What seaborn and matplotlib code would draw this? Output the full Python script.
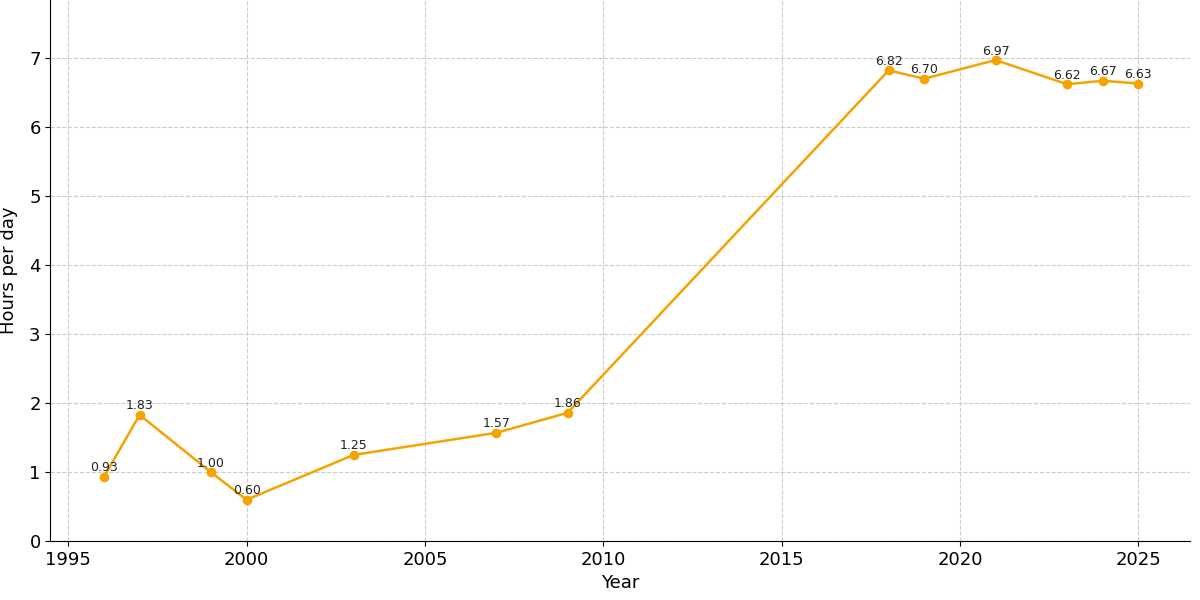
import matplotlib
matplotlib.use("Agg")
import matplotlib.pyplot as plt
import seaborn as sns
import pandas as pd

years = [1996, 1997, 1999, 2000, 2003, 2007, 2009, 2018, 2019, 2021, 2023, 2024, 2025]
hours = [0.93, 1.83, 1.00, 0.60, 1.25, 1.57, 1.86, 6.82, 6.70, 6.97, 6.62, 6.67, 6.63]
df = pd.DataFrame({"Year": years, "Hours per day": hours})

fig, ax = plt.subplots(figsize=(12, 6), dpi=100)
fig.subplots_adjust(left=0.042, right=0.992, top=1.0, bottom=0.098)
sns.lineplot(data=df, x="Year", y="Hours per day", color="#F5A300", marker="o",
             markersize=7, markeredgewidth=0, linewidth=1.8, ax=ax)
for x, y in zip(years, hours):
    ax.annotate(f"{y:.2f}", (x, y), textcoords="offset points", xytext=(0, 4),
                ha="center", fontsize=9, color="#222222")
ax.set_xlim(1994.5, 2026.46)
ax.set_ylim(0, 7.84)
ax.grid(True, linestyle="--", color="#cccccc", linewidth=0.8)
ax.spines["top"].set_visible(False)
ax.spines["right"].set_visible(False)
ax.tick_params(labelsize=13)
ax.set_xlabel("Year", fontsize=13)
ax.set_ylabel("Hours per day", fontsize=13, labelpad=8)
fig.savefig("out.png")
